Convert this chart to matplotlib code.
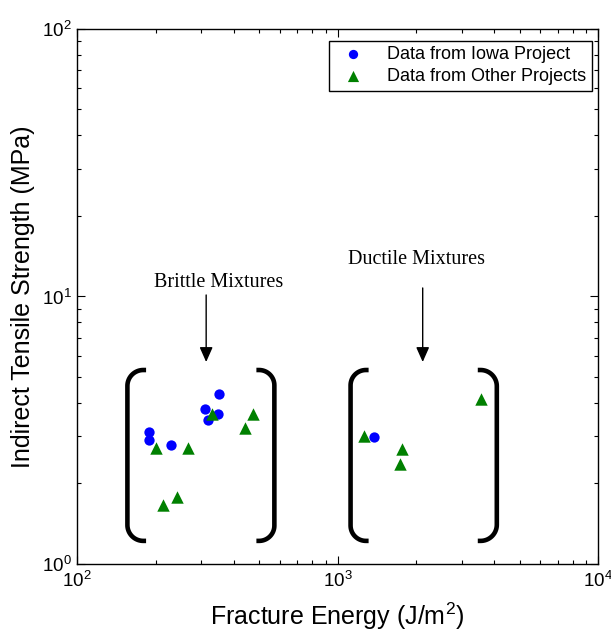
import numpy as np
import matplotlib
matplotlib.use("Agg")
import matplotlib.pyplot as plt

plt.rcParams['font.family'] = ['Liberation Sans', 'DejaVu Sans']
plt.rcParams['mathtext.fontset'] = 'custom'
plt.rcParams['mathtext.rm'] = 'Liberation Sans'
plt.rcParams['mathtext.it'] = 'Liberation Sans:italic'
plt.rcParams['mathtext.bf'] = 'Liberation Sans:bold'

# fracture energy (J/m^2) and indirect tensile strength (MPa)
iowa_energy = [188, 188, 229, 311, 352, 317, 346, 1379]
iowa_its = [3.11, 2.91, 2.79, 3.79, 4.32, 3.44, 3.64, 2.99]
other_energy = [201, 266, 329, 442, 475, 241, 214, 1262, 1773, 1732, 3548]
other_its = [2.71, 2.71, 3.63, 3.23, 3.64, 1.785, 1.66, 3.01, 2.70, 2.37, 4.13]

series_labels = ['Data from Iowa Project', 'Data from Other Projects']
group_labels = ['Brittle Mixtures', 'Ductile Mixtures']

# bracket extents: (left bar, left tip, right tip, right bar), y range
brackets = [(156, 184, 488, 572), (1122, 1316, 3455, 4088)]
bracket_y = (1.22, 5.31)

f = plt.figure(figsize=(6.11, 6.31), dpi=100)
ax = f.add_axes([0.1262, 0.1062, 0.8525, 0.8479])
ax.set_xscale('log')
ax.set_yscale('log')
ax.set_xlim(100, 10000)
ax.set_ylim(1, 100)

ax.scatter(iowa_energy, iowa_its, s=55, marker='o', color='#0000ff',
           linewidths=0, label=series_labels[0], zorder=3)
ax.scatter(other_energy, other_its, s=80, marker='^', color='#008000',
           linewidths=0, label=series_labels[1], zorder=4)


def draw_bracket(x_bar, x_tip, y0, y1):
    # build it in log space so the corners look round on screen
    lx, lt = np.log10(x_bar), np.log10(x_tip)
    ly0, ly1 = np.log10(y0), np.log10(y1)
    sgn = 1 if lt > lx else -1
    r = abs(lt - lx) * 0.85
    ry = r * 260 / 267.5
    th = np.linspace(0, np.pi / 2, 20)
    top_x = lx + sgn * (r - r * np.cos(th))
    top_y = ly1 - ry + ry * np.sin(th)
    bot_x = lx + sgn * (r - r * np.cos(th))
    bot_y = ly0 + ry - ry * np.sin(th)
    xs = np.concatenate([[lt], top_x[::-1], bot_x, [lt]])
    ys = np.concatenate([[ly1], top_y[::-1], bot_y, [ly0]])
    ax.plot(10 ** xs, 10 ** ys, color='black', lw=3.3,
            solid_capstyle='butt', zorder=2)


for b in brackets:
    draw_bracket(b[0], b[1], *bracket_y)
    draw_bracket(b[3], b[2], *bracket_y)

# group annotations
ax.text(349, 11.3, group_labels[0], family='Liberation Serif', fontsize=14.5,
        ha='center', va='center')
ax.text(2004, 13.7, group_labels[1], family='Liberation Serif', fontsize=14.5,
        ha='center', va='center')
for xa, ya in [(313, 10.13), (2123, 10.76)]:
    ax.annotate('', xy=(xa, 5.69), xytext=(xa, ya),
                arrowprops=dict(arrowstyle='-|>,head_length=0.9,head_width=0.4',
                                color='black', lw=1.0, shrinkA=0, shrinkB=0))

ax.tick_params(which='both', direction='in', top=True, right=True)
ax.tick_params(which='major', length=5.5, width=0.8, labelsize=13.5, pad=5)
ax.tick_params(which='minor', length=3, width=0.8)
ax.tick_params(axis='y', which='major', pad=4)
for s in ax.spines.values():
    s.set_linewidth(1.0)

ax.set_xlabel('Fracture Energy (J/m$^2$)', fontsize=18, labelpad=7)
ax.set_ylabel('Indirect Tensile Strength (MPa)', fontsize=18, labelpad=5)

leg = ax.legend(loc='upper right', bbox_to_anchor=(0.988, 0.978),
                borderaxespad=0, fontsize=13, fancybox=False,
                edgecolor='black', framealpha=1, markerscale=0.9,
                handlelength=2.0, handletextpad=0.9, borderpad=0.3,
                labelspacing=0.28)
leg.get_frame().set_linewidth(1.0)

plt.savefig("out.png", dpi=100)
